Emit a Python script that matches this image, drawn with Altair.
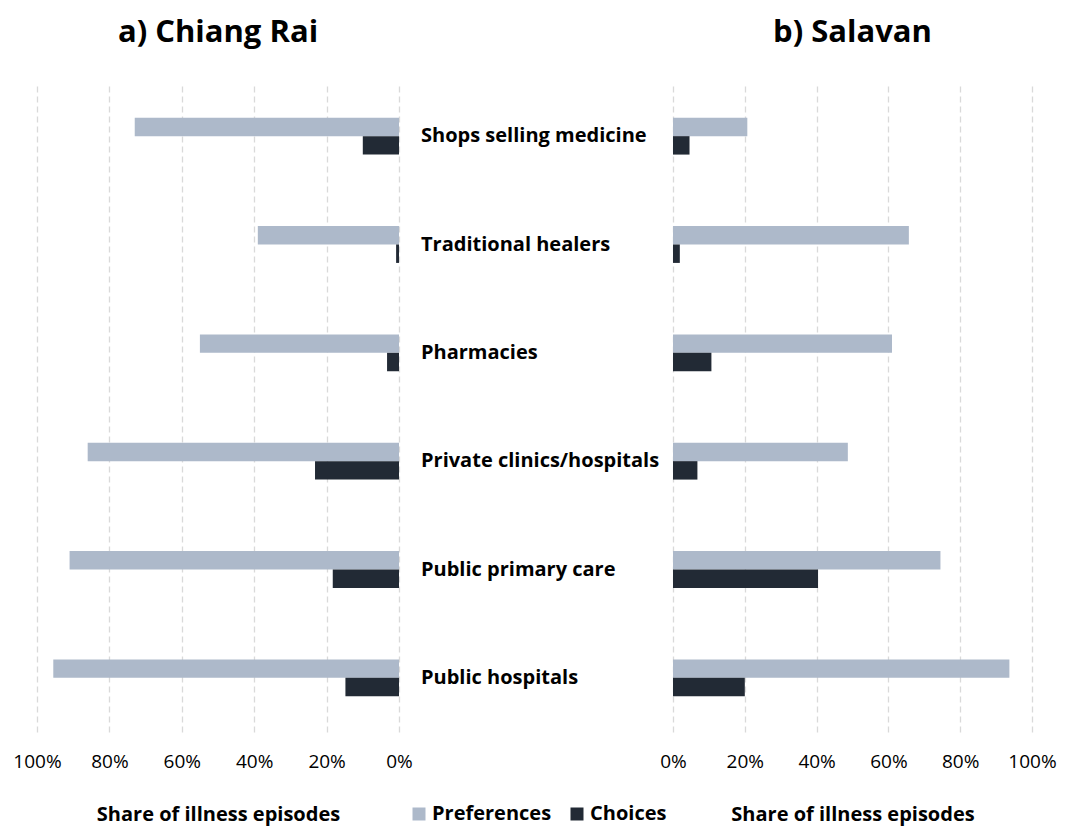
import altair as alt
import pandas as pd

categories = ["Shops selling medicine", "Traditional healers", "Pharmacies",
              "Private clinics/hospitals", "Public primary care", "Public hospitals"]
series = ["Preferences", "Choices"]
chiang_rai_pref = [0.73, 0.39, 0.55, 0.86, 0.91, 0.955]
chiang_rai_choice = [0.10, 0.008, 0.033, 0.232, 0.183, 0.148]
salavan_pref = [0.207, 0.657, 0.61, 0.487, 0.745, 0.937]
salavan_choice = [0.046, 0.019, 0.107, 0.068, 0.404, 0.20]
ticks = [0, 0.2, 0.4, 0.6, 0.8, 1.0]
colors = ["#ADB9CA", "#222A35"]

FONT = "Open Sans"


def frame(pref, choice):
    rows = []
    for c, p, ch in zip(categories, pref, choice):
        rows.append({"category": c, "series": "Preferences", "value": p})
        rows.append({"category": c, "series": "Choices", "value": ch})
    return pd.DataFrame(rows)


yscale = alt.Scale(domain=categories, paddingInner=0.66, paddingOuter=0.33)
H = 650


def panel(df, title, width, reverse):
    return alt.Chart(df, title=alt.Title(title, fontSize=31, font=FONT, fontWeight="bold",
                                         anchor="middle", offset=33)).mark_bar().encode(
        x=alt.X("value:Q",
                scale=alt.Scale(domain=[0, 1], reverse=reverse, nice=False),
                axis=alt.Axis(values=ticks, format=".0%", title="Share of illness episodes",
                              grid=True, gridDash=[6, 4], gridColor="#D9D9D9", gridWidth=1.3,
                              domain=False, ticks=False, labelFontSize=19, labelFont=FONT,
                              labelColor="#000000", labelPadding=20, labelFlush=False,
                              titleFontSize=20, titleFont=FONT, titleFontWeight="bold",
                              titleColor="#000000", titlePadding=33)),
        y=alt.Y("category:N", scale=yscale, axis=None, sort=categories),
        yOffset=alt.YOffset("series:N", sort=series, scale=alt.Scale(domain=series)),
        color=alt.Color("series:N", scale=alt.Scale(domain=series, range=colors),
                        legend=alt.Legend(title=None, orient="none", direction="horizontal",
                                          legendX=372, legendY=722, symbolType="square",
                                          symbolSize=169, labelFontSize=20, labelFont=FONT,
                                          labelFontWeight="bold",
                                          labelColor="#000000", columnPadding=15,
                                          symbolStrokeWidth=0, labelOffset=3)),
    ).properties(width=width, height=H)


left = panel(frame(chiang_rai_pref, chiang_rai_choice), "a) Chiang Rai", 362, True)
right = panel(frame(salavan_pref, salavan_choice), "b) Salavan", 359, False)

mid_df = pd.DataFrame({"category": categories})
middle = alt.Chart(mid_df).mark_text(align="left", baseline="middle", fontSize=20,
                                     font=FONT, fontWeight="bold", color="#000000").encode(
    y=alt.Y("category:N", scale=yscale, axis=None, sort=categories),
    x=alt.value(22),
    text="category:N",
).properties(width=274, height=H)

chart = alt.hconcat(left, middle, right, spacing=0, bounds="flush").properties(
    padding={"left": 4, "top": 9, "right": 0, "bottom": 4}
).configure(background="white").configure_view(stroke=None)

chart.save("out.html", embed_options={"renderer": "svg", "actions": False})
